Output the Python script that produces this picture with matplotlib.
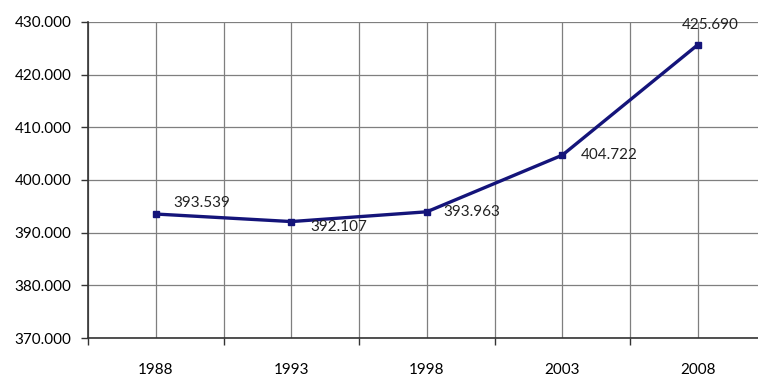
import numpy as np
import matplotlib.pyplot as plt
from matplotlib.ticker import FuncFormatter, FixedLocator

years = ['1988', '1993', '1998', '2003', '2008']
values = [393539, 392107, 393963, 404722, 425690]
yticks = [370000, 380000, 390000, 400000, 410000, 420000, 430000]

plt.rcParams['font.family'] = ['Lato', 'DejaVu Sans']

def dotted(v):
    return f'{v:,.0f}'.replace(',', '.')

fig = plt.figure(figsize=(7.58, 3.76), dpi=100)
ax = fig.add_axes([88/758, 38/376, (758-88)/758, (338-22)/376])

x = np.arange(len(years))
ax.plot(x, values, color='#14147a', lw=2.4, marker='s', ms=5, zorder=3)

# label offsets (points) for each value
offsets = [(13, 8), (14, -4), (12, 0), (13, 0), (9, 14)]
halign = ['left', 'left', 'left', 'left', 'center']
for xi, v, off, ha in zip(x, values, offsets, halign):
    ax.annotate(dotted(v), (xi, v), xytext=off, textcoords='offset points',
                ha=ha, va='center', fontsize=11, color='#222222')

ax.set_xlim(-0.5, (758 - 157) / 135.25)
ax.set_ylim(370000, 430000)
ax.set_yticks(yticks)
ax.yaxis.set_major_formatter(FuncFormatter(lambda v, p: dotted(v)))

ax.set_xticks(x)
ax.set_xticklabels(years)
ax.xaxis.set_minor_locator(FixedLocator(np.arange(-0.5, 5, 1.0)))
ax.tick_params(axis='x', which='major', length=0, pad=18, labelsize=11)
ax.tick_params(axis='x', which='minor', length=5, width=1, color='#333333')
ax.tick_params(axis='y', length=5, width=1, color='#333333', labelsize=11, pad=7)

ax.grid(True, which='both', axis='x', color='#7f7f7f', lw=0.9)
ax.grid(True, axis='y', color='#7f7f7f', lw=0.9)
ax.set_axisbelow(True)

for s in ['top', 'right']:
    ax.spines[s].set_visible(False)
for s in ['left', 'bottom']:
    ax.spines[s].set_color('#333333')
    ax.spines[s].set_linewidth(1.2)

fig.savefig('out.png', dpi=100)
